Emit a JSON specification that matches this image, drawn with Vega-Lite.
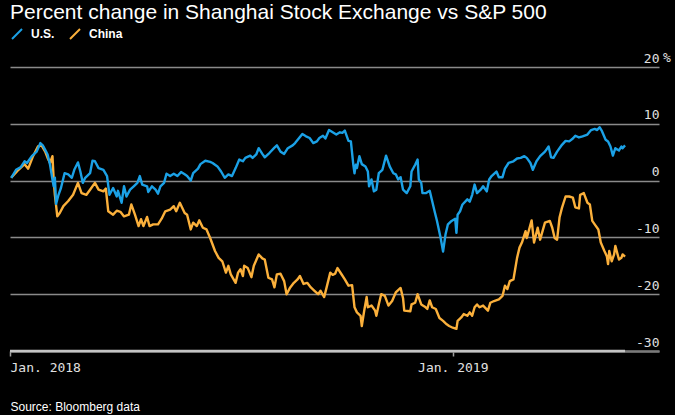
{
  "$schema": "https://vega.github.io/schema/vega-lite/v6.json",
  "width": 649,
  "height": 284,
  "autosize": {"type": "none"},
  "padding": {"left": 10, "top": 67, "right": 16, "bottom": 64},
  "background": "#000000",
  "title": {
    "text": "Percent change in Shanghai Stock Exchange vs S&P 500",
    "anchor": "start",
    "frame": "group",
    "font": "Liberation Sans",
    "fontSize": 21,
    "fontWeight": "normal",
    "color": "#ffffff",
    "offset": 5
  },
  "config": {"view": {"stroke": null}},
  "datasets": {
    "series": [
      {"d":"2018-01-02","s":"U.S.","v":0.5},{"d":"2018-01-06","s":"U.S.","v":1.9},{"d":"2018-01-10","s":"U.S.","v":2.4},{"d":"2018-01-13","s":"U.S.","v":3.4},{"d":"2018-01-15","s":"U.S.","v":3.1},{"d":"2018-01-19","s":"U.S.","v":4.3},{"d":"2018-01-23","s":"U.S.","v":5.1},{"d":"2018-01-26","s":"U.S.","v":6.6},{"d":"2018-01-28","s":"U.S.","v":6.2},{"d":"2018-01-30","s":"U.S.","v":5.4},
      {"d":"2018-02-01","s":"U.S.","v":4.6},{"d":"2018-02-03","s":"U.S.","v":2.8},{"d":"2018-02-05","s":"U.S.","v":0.2},{"d":"2018-02-06","s":"U.S.","v":-1.0},{"d":"2018-02-07","s":"U.S.","v":0.5},{"d":"2018-02-08","s":"U.S.","v":-4.1},{"d":"2018-02-10","s":"U.S.","v":-2.5},{"d":"2018-02-12","s":"U.S.","v":-1.3},{"d":"2018-02-15","s":"U.S.","v":1.3},{"d":"2018-02-18","s":"U.S.","v":1.1},
      {"d":"2018-02-21","s":"U.S.","v":0.5},{"d":"2018-02-23","s":"U.S.","v":1.9},{"d":"2018-02-26","s":"U.S.","v":3.2},{"d":"2018-02-28","s":"U.S.","v":1.6},{"d":"2018-03-02","s":"U.S.","v":-0.4},{"d":"2018-03-04","s":"U.S.","v":0.5},{"d":"2018-03-08","s":"U.S.","v":1.3},{"d":"2018-03-10","s":"U.S.","v":3.5},{"d":"2018-03-12","s":"U.S.","v":3.4},{"d":"2018-03-15","s":"U.S.","v":2.2},
      {"d":"2018-03-19","s":"U.S.","v":1.9},{"d":"2018-03-22","s":"U.S.","v":0.8},{"d":"2018-03-24","s":"U.S.","v":-2.5},{"d":"2018-03-27","s":"U.S.","v":-1.3},{"d":"2018-03-30","s":"U.S.","v":-2.8},{"d":"2018-03-31","s":"U.S.","v":-1.8},{"d":"2018-04-03","s":"U.S.","v":-3.9},{"d":"2018-04-05","s":"U.S.","v":-1.0},{"d":"2018-04-07","s":"U.S.","v":-2.8},{"d":"2018-04-10","s":"U.S.","v":-1.6},
      {"d":"2018-04-13","s":"U.S.","v":-1.0},{"d":"2018-04-16","s":"U.S.","v":-0.4},{"d":"2018-04-18","s":"U.S.","v":0.8},{"d":"2018-04-20","s":"U.S.","v":-0.7},{"d":"2018-04-24","s":"U.S.","v":-1.0},{"d":"2018-04-25","s":"U.S.","v":-2.0},{"d":"2018-04-28","s":"U.S.","v":-1.0},{"d":"2018-05-01","s":"U.S.","v":-1.6},{"d":"2018-05-03","s":"U.S.","v":-2.3},{"d":"2018-05-05","s":"U.S.","v":-1.0},
      {"d":"2018-05-08","s":"U.S.","v":-0.4},{"d":"2018-05-10","s":"U.S.","v":1.2},{"d":"2018-05-13","s":"U.S.","v":0.8},{"d":"2018-05-16","s":"U.S.","v":1.2},{"d":"2018-05-19","s":"U.S.","v":0.8},{"d":"2018-05-22","s":"U.S.","v":1.5},{"d":"2018-05-25","s":"U.S.","v":1.1},{"d":"2018-05-27","s":"U.S.","v":0.8},{"d":"2018-05-30","s":"U.S.","v":0.0},{"d":"2018-06-01","s":"U.S.","v":1.3},
      {"d":"2018-06-05","s":"U.S.","v":2.1},{"d":"2018-06-07","s":"U.S.","v":2.9},{"d":"2018-06-11","s":"U.S.","v":3.5},{"d":"2018-06-15","s":"U.S.","v":3.3},{"d":"2018-06-17","s":"U.S.","v":3.1},{"d":"2018-06-21","s":"U.S.","v":2.5},{"d":"2018-06-24","s":"U.S.","v":1.6},{"d":"2018-06-27","s":"U.S.","v":0.5},{"d":"2018-06-30","s":"U.S.","v":1.1},{"d":"2018-07-03","s":"U.S.","v":0.8},
      {"d":"2018-07-06","s":"U.S.","v":2.2},{"d":"2018-07-09","s":"U.S.","v":3.7},{"d":"2018-07-12","s":"U.S.","v":3.4},{"d":"2018-07-14","s":"U.S.","v":4.0},{"d":"2018-07-18","s":"U.S.","v":4.4},{"d":"2018-07-20","s":"U.S.","v":4.0},{"d":"2018-07-23","s":"U.S.","v":4.6},{"d":"2018-07-25","s":"U.S.","v":5.7},{"d":"2018-07-28","s":"U.S.","v":4.7},{"d":"2018-07-30","s":"U.S.","v":4.1},
      {"d":"2018-08-03","s":"U.S.","v":4.9},{"d":"2018-08-07","s":"U.S.","v":5.8},{"d":"2018-08-09","s":"U.S.","v":6.2},{"d":"2018-08-12","s":"U.S.","v":5.1},{"d":"2018-08-15","s":"U.S.","v":4.7},{"d":"2018-08-18","s":"U.S.","v":5.7},{"d":"2018-08-22","s":"U.S.","v":6.2},{"d":"2018-08-24","s":"U.S.","v":6.6},{"d":"2018-08-27","s":"U.S.","v":7.4},{"d":"2018-08-30","s":"U.S.","v":8.2},
      {"d":"2018-09-02","s":"U.S.","v":7.8},{"d":"2018-09-05","s":"U.S.","v":7.5},{"d":"2018-09-08","s":"U.S.","v":6.6},{"d":"2018-09-11","s":"U.S.","v":6.9},{"d":"2018-09-13","s":"U.S.","v":7.5},{"d":"2018-09-16","s":"U.S.","v":7.9},{"d":"2018-09-18","s":"U.S.","v":7.4},{"d":"2018-09-21","s":"U.S.","v":8.9},{"d":"2018-09-24","s":"U.S.","v":8.5},{"d":"2018-09-27","s":"U.S.","v":8.1},
      {"d":"2018-09-30","s":"U.S.","v":8.5},{"d":"2018-10-02","s":"U.S.","v":8.4},{"d":"2018-10-04","s":"U.S.","v":8.8},{"d":"2018-10-07","s":"U.S.","v":7.0},{"d":"2018-10-09","s":"U.S.","v":6.9},{"d":"2018-10-11","s":"U.S.","v":2.8},{"d":"2018-10-12","s":"U.S.","v":1.3},{"d":"2018-10-13","s":"U.S.","v":2.8},{"d":"2018-10-14","s":"U.S.","v":2.2},{"d":"2018-10-16","s":"U.S.","v":4.3},
      {"d":"2018-10-18","s":"U.S.","v":2.9},{"d":"2018-10-21","s":"U.S.","v":2.5},{"d":"2018-10-23","s":"U.S.","v":1.6},{"d":"2018-10-24","s":"U.S.","v":-1.0},{"d":"2018-10-26","s":"U.S.","v":0.2},{"d":"2018-10-28","s":"U.S.","v":-1.9},{"d":"2018-10-30","s":"U.S.","v":-1.6},{"d":"2018-11-01","s":"U.S.","v":1.3},{"d":"2018-11-04","s":"U.S.","v":1.9},{"d":"2018-11-07","s":"U.S.","v":4.4},
      {"d":"2018-11-10","s":"U.S.","v":2.5},{"d":"2018-11-13","s":"U.S.","v":1.3},{"d":"2018-11-15","s":"U.S.","v":1.1},{"d":"2018-11-17","s":"U.S.","v":0.2},{"d":"2018-11-19","s":"U.S.","v":0.6},{"d":"2018-11-21","s":"U.S.","v":-1.6},{"d":"2018-11-24","s":"U.S.","v":-2.2},{"d":"2018-11-27","s":"U.S.","v":-1.0},{"d":"2018-11-28","s":"U.S.","v":1.6},{"d":"2018-12-01","s":"U.S.","v":2.8},
      {"d":"2018-12-03","s":"U.S.","v":3.7},{"d":"2018-12-04","s":"U.S.","v":0.2},{"d":"2018-12-06","s":"U.S.","v":-0.4},{"d":"2018-12-07","s":"U.S.","v":-2.2},{"d":"2018-12-10","s":"U.S.","v":-2.2},{"d":"2018-12-13","s":"U.S.","v":-1.8},{"d":"2018-12-15","s":"U.S.","v":-3.6},{"d":"2018-12-17","s":"U.S.","v":-5.4},{"d":"2018-12-19","s":"U.S.","v":-7.1},{"d":"2018-12-22","s":"U.S.","v":-10.1},
      {"d":"2018-12-24","s":"U.S.","v":-12.5},{"d":"2018-12-26","s":"U.S.","v":-9.5},{"d":"2018-12-28","s":"U.S.","v":-7.7},{"d":"2018-12-31","s":"U.S.","v":-7.1},{"d":"2019-01-03","s":"U.S.","v":-6.7},{"d":"2019-01-04","s":"U.S.","v":-9.2},{"d":"2019-01-05","s":"U.S.","v":-6.0},{"d":"2019-01-07","s":"U.S.","v":-5.4},{"d":"2019-01-09","s":"U.S.","v":-4.2},{"d":"2019-01-13","s":"U.S.","v":-3.3},
      {"d":"2019-01-15","s":"U.S.","v":-3.7},{"d":"2019-01-17","s":"U.S.","v":-2.5},{"d":"2019-01-19","s":"U.S.","v":-0.7},{"d":"2019-01-21","s":"U.S.","v":-2.2},{"d":"2019-01-24","s":"U.S.","v":-1.6},{"d":"2019-01-26","s":"U.S.","v":-1.0},{"d":"2019-01-29","s":"U.S.","v":-1.9},{"d":"2019-01-31","s":"U.S.","v":0.2},{"d":"2019-02-02","s":"U.S.","v":0.8},{"d":"2019-02-06","s":"U.S.","v":1.6},
      {"d":"2019-02-08","s":"U.S.","v":0.6},{"d":"2019-02-11","s":"U.S.","v":0.6},{"d":"2019-02-13","s":"U.S.","v":2.1},{"d":"2019-02-16","s":"U.S.","v":3.1},{"d":"2019-02-20","s":"U.S.","v":3.4},{"d":"2019-02-23","s":"U.S.","v":3.9},{"d":"2019-02-26","s":"U.S.","v":4.0},{"d":"2019-03-01","s":"U.S.","v":4.3},{"d":"2019-03-03","s":"U.S.","v":4.0},{"d":"2019-03-06","s":"U.S.","v":3.1},
      {"d":"2019-03-08","s":"U.S.","v":1.9},{"d":"2019-03-11","s":"U.S.","v":3.4},{"d":"2019-03-14","s":"U.S.","v":4.3},{"d":"2019-03-18","s":"U.S.","v":5.1},{"d":"2019-03-21","s":"U.S.","v":6.0},{"d":"2019-03-23","s":"U.S.","v":4.1},{"d":"2019-03-25","s":"U.S.","v":4.0},{"d":"2019-03-28","s":"U.S.","v":5.1},{"d":"2019-04-01","s":"U.S.","v":6.3},{"d":"2019-04-04","s":"U.S.","v":7.0},
      {"d":"2019-04-07","s":"U.S.","v":6.9},{"d":"2019-04-10","s":"U.S.","v":7.4},{"d":"2019-04-12","s":"U.S.","v":7.9},{"d":"2019-04-15","s":"U.S.","v":7.6},{"d":"2019-04-18","s":"U.S.","v":7.8},{"d":"2019-04-22","s":"U.S.","v":8.1},{"d":"2019-04-25","s":"U.S.","v":8.9},{"d":"2019-04-28","s":"U.S.","v":9.1},{"d":"2019-04-30","s":"U.S.","v":8.9},{"d":"2019-05-02","s":"U.S.","v":9.4},
      {"d":"2019-05-04","s":"U.S.","v":8.7},{"d":"2019-05-07","s":"U.S.","v":7.2},{"d":"2019-05-09","s":"U.S.","v":6.9},{"d":"2019-05-11","s":"U.S.","v":6.0},{"d":"2019-05-13","s":"U.S.","v":4.4},{"d":"2019-05-15","s":"U.S.","v":5.7},{"d":"2019-05-18","s":"U.S.","v":5.3},{"d":"2019-05-20","s":"U.S.","v":6.0},{"d":"2019-05-21","s":"U.S.","v":5.7},{"d":"2019-05-23","s":"U.S.","v":6.2},

      {"d":"2018-01-02","s":"China","v":0.5},{"d":"2018-01-08","s":"China","v":1.9},{"d":"2018-01-13","s":"China","v":2.9},{"d":"2018-01-16","s":"China","v":2.1},{"d":"2018-01-20","s":"China","v":4.3},{"d":"2018-01-24","s":"China","v":6.0},{"d":"2018-01-27","s":"China","v":6.2},{"d":"2018-01-30","s":"China","v":5.1},{"d":"2018-02-01","s":"China","v":4.0},{"d":"2018-02-03","s":"China","v":3.1},
      {"d":"2018-02-05","s":"China","v":4.3},{"d":"2018-02-06","s":"China","v":0.2},{"d":"2018-02-07","s":"China","v":-2.5},{"d":"2018-02-09","s":"China","v":-6.3},{"d":"2018-02-11","s":"China","v":-5.7},{"d":"2018-02-14","s":"China","v":-4.5},{"d":"2018-02-18","s":"China","v":-3.6},{"d":"2018-02-22","s":"China","v":-2.5},{"d":"2018-02-26","s":"China","v":-0.4},{"d":"2018-03-01","s":"China","v":-2.2},
      {"d":"2018-03-05","s":"China","v":-2.5},{"d":"2018-03-08","s":"China","v":-1.6},{"d":"2018-03-12","s":"China","v":-0.4},{"d":"2018-03-15","s":"China","v":-1.6},{"d":"2018-03-19","s":"China","v":-1.9},{"d":"2018-03-21","s":"China","v":-1.4},{"d":"2018-03-23","s":"China","v":-5.4},{"d":"2018-03-25","s":"China","v":-5.7},{"d":"2018-03-27","s":"China","v":-6.0},{"d":"2018-03-30","s":"China","v":-5.3},
      {"d":"2018-04-02","s":"China","v":-5.5},{"d":"2018-04-05","s":"China","v":-6.3},{"d":"2018-04-09","s":"China","v":-6.0},{"d":"2018-04-11","s":"China","v":-4.2},{"d":"2018-04-14","s":"China","v":-6.0},{"d":"2018-04-17","s":"China","v":-8.0},{"d":"2018-04-19","s":"China","v":-6.8},{"d":"2018-04-21","s":"China","v":-8.0},{"d":"2018-04-24","s":"China","v":-6.4},{"d":"2018-04-26","s":"China","v":-8.0},
      {"d":"2018-04-29","s":"China","v":-7.7},{"d":"2018-05-03","s":"China","v":-7.7},{"d":"2018-05-06","s":"China","v":-6.7},{"d":"2018-05-09","s":"China","v":-5.4},{"d":"2018-05-13","s":"China","v":-5.1},{"d":"2018-05-16","s":"China","v":-4.5},{"d":"2018-05-18","s":"China","v":-5.4},{"d":"2018-05-21","s":"China","v":-3.9},{"d":"2018-05-25","s":"China","v":-5.7},{"d":"2018-05-27","s":"China","v":-6.0},
      {"d":"2018-05-30","s":"China","v":-8.6},{"d":"2018-06-01","s":"China","v":-7.4},{"d":"2018-06-04","s":"China","v":-8.0},{"d":"2018-06-06","s":"China","v":-7.0},{"d":"2018-06-09","s":"China","v":-8.3},{"d":"2018-06-12","s":"China","v":-8.6},{"d":"2018-06-15","s":"China","v":-10.1},{"d":"2018-06-19","s":"China","v":-12.4},{"d":"2018-06-22","s":"China","v":-13.6},{"d":"2018-06-25","s":"China","v":-14.2},
      {"d":"2018-06-28","s":"China","v":-16.2},{"d":"2018-06-30","s":"China","v":-15.0},{"d":"2018-07-02","s":"China","v":-16.5},{"d":"2018-07-06","s":"China","v":-18.0},{"d":"2018-07-08","s":"China","v":-16.2},{"d":"2018-07-10","s":"China","v":-15.6},{"d":"2018-07-12","s":"China","v":-16.8},{"d":"2018-07-13","s":"China","v":-15.0},{"d":"2018-07-16","s":"China","v":-15.4},{"d":"2018-07-19","s":"China","v":-17.0},
      {"d":"2018-07-21","s":"China","v":-15.0},{"d":"2018-07-25","s":"China","v":-13.0},{"d":"2018-07-28","s":"China","v":-13.7},{"d":"2018-07-30","s":"China","v":-13.9},{"d":"2018-08-02","s":"China","v":-17.1},{"d":"2018-08-05","s":"China","v":-17.4},{"d":"2018-08-07","s":"China","v":-18.8},{"d":"2018-08-09","s":"China","v":-16.5},{"d":"2018-08-12","s":"China","v":-16.4},{"d":"2018-08-15","s":"China","v":-17.7},
      {"d":"2018-08-17","s":"China","v":-20.0},{"d":"2018-08-20","s":"China","v":-18.8},{"d":"2018-08-23","s":"China","v":-18.0},{"d":"2018-08-26","s":"China","v":-17.4},{"d":"2018-08-28","s":"China","v":-16.8},{"d":"2018-08-31","s":"China","v":-18.2},{"d":"2018-09-03","s":"China","v":-18.0},{"d":"2018-09-06","s":"China","v":-18.8},{"d":"2018-09-09","s":"China","v":-19.4},{"d":"2018-09-12","s":"China","v":-20.0},
      {"d":"2018-09-14","s":"China","v":-19.4},{"d":"2018-09-17","s":"China","v":-20.5},{"d":"2018-09-19","s":"China","v":-18.8},{"d":"2018-09-22","s":"China","v":-16.2},{"d":"2018-09-24","s":"China","v":-16.6},{"d":"2018-09-26","s":"China","v":-16.4},{"d":"2018-09-28","s":"China","v":-15.4},{"d":"2018-10-01","s":"China","v":-16.4},{"d":"2018-10-04","s":"China","v":-17.4},{"d":"2018-10-07","s":"China","v":-18.5},
      {"d":"2018-10-10","s":"China","v":-18.4},{"d":"2018-10-12","s":"China","v":-22.3},{"d":"2018-10-14","s":"China","v":-23.2},{"d":"2018-10-17","s":"China","v":-23.8},{"d":"2018-10-18","s":"China","v":-25.6},{"d":"2018-10-20","s":"China","v":-22.9},{"d":"2018-10-22","s":"China","v":-20.5},{"d":"2018-10-23","s":"China","v":-22.3},{"d":"2018-10-26","s":"China","v":-22.0},{"d":"2018-10-29","s":"China","v":-22.9},
      {"d":"2018-10-30","s":"China","v":-23.8},{"d":"2018-11-01","s":"China","v":-21.8},{"d":"2018-11-03","s":"China","v":-20.0},{"d":"2018-11-06","s":"China","v":-20.3},{"d":"2018-11-09","s":"China","v":-22.0},{"d":"2018-11-12","s":"China","v":-21.2},{"d":"2018-11-15","s":"China","v":-19.7},{"d":"2018-11-19","s":"China","v":-18.9},{"d":"2018-11-21","s":"China","v":-20.7},{"d":"2018-11-22","s":"China","v":-22.9},
      {"d":"2018-11-27","s":"China","v":-23.0},{"d":"2018-11-28","s":"China","v":-21.8},{"d":"2018-12-01","s":"China","v":-21.5},{"d":"2018-12-03","s":"China","v":-20.0},{"d":"2018-12-06","s":"China","v":-21.8},{"d":"2018-12-09","s":"China","v":-22.2},{"d":"2018-12-11","s":"China","v":-22.6},{"d":"2018-12-13","s":"China","v":-21.1},{"d":"2018-12-15","s":"China","v":-22.3},{"d":"2018-12-18","s":"China","v":-22.6},
      {"d":"2018-12-21","s":"China","v":-24.2},{"d":"2018-12-24","s":"China","v":-24.7},{"d":"2018-12-27","s":"China","v":-25.3},{"d":"2018-12-29","s":"China","v":-25.6},{"d":"2019-01-01","s":"China","v":-25.9},{"d":"2019-01-04","s":"China","v":-26.1},{"d":"2019-01-05","s":"China","v":-24.7},{"d":"2019-01-08","s":"China","v":-24.1},{"d":"2019-01-10","s":"China","v":-23.5},{"d":"2019-01-13","s":"China","v":-23.8},
      {"d":"2019-01-15","s":"China","v":-23.2},{"d":"2019-01-17","s":"China","v":-23.8},{"d":"2019-01-19","s":"China","v":-22.3},{"d":"2019-01-21","s":"China","v":-21.8},{"d":"2019-01-23","s":"China","v":-22.3},{"d":"2019-01-26","s":"China","v":-22.0},{"d":"2019-01-30","s":"China","v":-22.9},{"d":"2019-02-01","s":"China","v":-21.5},{"d":"2019-02-04","s":"China","v":-21.2},{"d":"2019-02-08","s":"China","v":-20.9},
      {"d":"2019-02-11","s":"China","v":-20.3},{"d":"2019-02-13","s":"China","v":-18.5},{"d":"2019-02-15","s":"China","v":-19.1},{"d":"2019-02-17","s":"China","v":-17.7},{"d":"2019-02-20","s":"China","v":-17.4},{"d":"2019-02-23","s":"China","v":-13.6},{"d":"2019-02-25","s":"China","v":-11.8},{"d":"2019-02-27","s":"China","v":-10.9},{"d":"2019-03-02","s":"China","v":-8.9},{"d":"2019-03-03","s":"China","v":-10.1},
      {"d":"2019-03-07","s":"China","v":-7.0},{"d":"2019-03-09","s":"China","v":-10.9},{"d":"2019-03-12","s":"China","v":-8.3},{"d":"2019-03-14","s":"China","v":-10.4},{"d":"2019-03-18","s":"China","v":-7.4},{"d":"2019-03-22","s":"China","v":-7.1},{"d":"2019-03-24","s":"China","v":-8.3},{"d":"2019-03-26","s":"China","v":-10.1},{"d":"2019-03-28","s":"China","v":-10.4},{"d":"2019-03-30","s":"China","v":-6.5},
      {"d":"2019-04-01","s":"China","v":-4.8},{"d":"2019-04-04","s":"China","v":-2.8},{"d":"2019-04-07","s":"China","v":-2.8},{"d":"2019-04-10","s":"China","v":-3.0},{"d":"2019-04-12","s":"China","v":-4.7},{"d":"2019-04-15","s":"China","v":-4.9},{"d":"2019-04-16","s":"China","v":-2.5},{"d":"2019-04-19","s":"China","v":-2.2},{"d":"2019-04-22","s":"China","v":-3.9},{"d":"2019-04-24","s":"China","v":-4.2},
      {"d":"2019-04-26","s":"China","v":-7.1},{"d":"2019-04-28","s":"China","v":-7.7},{"d":"2019-05-01","s":"China","v":-8.6},{"d":"2019-05-03","s":"China","v":-10.9},{"d":"2019-05-06","s":"China","v":-12.4},{"d":"2019-05-08","s":"China","v":-13.3},{"d":"2019-05-09","s":"China","v":-14.7},{"d":"2019-05-10","s":"China","v":-12.4},{"d":"2019-05-12","s":"China","v":-14.2},{"d":"2019-05-14","s":"China","v":-13.0},
      {"d":"2019-05-15","s":"China","v":-11.5},{"d":"2019-05-18","s":"China","v":-13.9},{"d":"2019-05-20","s":"China","v":-13.6},{"d":"2019-05-21","s":"China","v":-13.0},{"d":"2019-05-23","s":"China","v":-13.4}
    ]
  },
  "encoding": {
    "x": {
      "field": "d",
      "type": "temporal",
      "scale": {
        "type": "utc",
        "domain": [{"year": 2018, "month": 1, "date": 1, "utc": true}, {"year": 2019, "month": 6, "date": 20, "utc": true}]
      },
      "axis": {
        "title": "Source: Bloomberg data",
        "titleAnchor": "start",
        "titleAlign": "left",
        "titleX": 0,
        "titleY": 59,
        "titleBaseline": "alphabetic",
        "titleFont": "Liberation Sans",
        "titleFontSize": 12,
        "titleFontWeight": "normal",
        "titleColor": "#ffffff",
        "values": [{"year": 2018, "month": 1, "date": 1, "utc": true}, {"year": 2019, "month": 1, "date": 1, "utc": true}],
        "labelExpr": "utcFormat(datum.value, '%b. %Y')",
        "labelFont": "DejaVu Sans Mono",
        "labelFontSize": 13,
        "labelColor": "#e0e0e0",
        "labelFlush": true,
        "labelPadding": 5,
        "tickSize": 5,
        "tickColor": "#a0a0a0",
        "tickWidth": 1.5,
        "domainColor": "#7a7a7a",
        "domainWidth": 2.5,
        "grid": false
      }
    },
    "y": {
      "field": "v",
      "type": "quantitative",
      "scale": {"domain": [-30, 20], "nice": false, "zero": false},
      "axis": {
        "orient": "right",
        "title": null,
        "values": [-30, -20, -10, 0, 10, 20],
        "labelExpr": "'' + datum.value",
        "domain": false,
        "ticks": false,
        "tickSize": 0,
        "labelAlign": "right",
        "labelPadding": 0,
        "labelBaseline": "alphabetic",
        "labelOffset": -5,
        "labelFont": "DejaVu Sans Mono",
        "labelFontSize": 13,
        "labelColor": "#e0e0e0",
        "grid": true,
        "gridColor": "#8a8a8a",
        "gridWidth": 1.3
      }
    }
  },
  "layer": [
    {
      "data": {"values": [{"d": "2018-01-01", "d2": "2019-05-23", "v": -30}], "format": {"parse": {"d": "date", "d2": "date"}}},
      "mark": {"type": "rule", "color": "#c4c4c4", "strokeWidth": 2.5},
      "encoding": {"x2": {"field": "d2"}}
    },
    {
      "data": {"name": "series"},
      "transform": [{"filter": "datum.s === 'China'"}],
      "mark": {"type": "line", "strokeWidth": 2.4, "strokeJoin": "round"},
      "encoding": {
        "color": {
          "field": "s",
          "type": "nominal",
          "scale": {"domain": ["U.S.", "China"], "range": ["#1ba1e6", "#fbb03b"]},
          "legend": {
            "orient": "none", "legendX": 1, "legendY": -39, "direction": "horizontal", "title": null,
            "symbolType": "M-1,1L1,-1", "symbolSize": 100, "symbolStrokeWidth": 2,
            "labelFont": "Liberation Sans", "labelFontSize": 12, "labelFontWeight": "bold", "labelColor": "#ffffff",
            "labelOffset": 8, "columnPadding": 11, "padding": 0
          }
        }
      }
    },
    {
      "data": {"name": "series"},
      "transform": [{"filter": "datum.s === 'U.S.'"}],
      "mark": {"type": "line", "strokeWidth": 2.4, "strokeJoin": "round"},
      "encoding": {
        "color": {
          "field": "s",
          "type": "nominal",
          "scale": {"domain": ["U.S.", "China"], "range": ["#1ba1e6", "#fbb03b"]},
          "legend": {
            "orient": "none", "legendX": 1, "legendY": -39, "direction": "horizontal", "title": null,
            "symbolType": "M-1,1L1,-1", "symbolSize": 100, "symbolStrokeWidth": 2,
            "labelFont": "Liberation Sans", "labelFontSize": 12, "labelFontWeight": "bold", "labelColor": "#ffffff",
            "labelOffset": 8, "columnPadding": 11, "padding": 0
          }
        }
      }
    },
    {
      "data": {"values": [{"d": "2019-06-20", "v": 20, "t": "%"}]},
      "mark": {"type": "text", "align": "left", "baseline": "alphabetic", "dx": 4, "dy": -5, "font": "DejaVu Sans Mono", "fontSize": 13, "color": "#e0e0e0"},
      "encoding": {"text": {"field": "t"}}
    }
  ]
}
